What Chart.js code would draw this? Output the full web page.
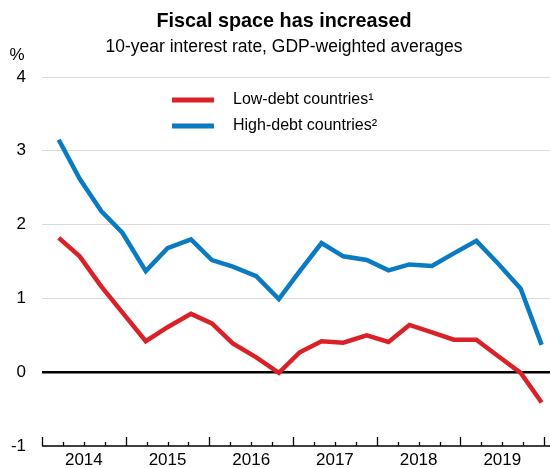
<!DOCTYPE html>
<html>
<head>
<meta charset="UTF-8">
<title>Fiscal space has increased</title>
<script src="https://cdn.jsdelivr.net/npm/chart.js@4"></script>
<style>
    body { margin: 0; background: #fff; }
    canvas { display: block; }
</style>
</head>
<body>
<canvas id="chart" width="550" height="468"></canvas>
<script>
// observation dates as decimal years
const dates = [2014.20, 2014.45, 2014.71, 2014.96, 2015.24, 2015.50, 2015.78, 2016.03, 2016.28, 2016.56,
               2016.83, 2017.08, 2017.34, 2017.60, 2017.88, 2018.14, 2018.39, 2018.66, 2018.92, 2019.19,
               2019.46, 2019.72, 2019.97];
const lowDebt = [1.82, 1.57, 1.16, 0.81, 0.42, 0.61, 0.79, 0.66, 0.39, 0.20,
                 -0.01, 0.27, 0.42, 0.40, 0.50, 0.41, 0.64, 0.54, 0.44, 0.44,
                 0.21, -0.01, -0.41];
const highDebt = [3.15, 2.62, 2.18, 1.89, 1.37, 1.68, 1.80, 1.52, 1.43, 1.30,
                  0.99, 1.37, 1.75, 1.57, 1.52, 1.38, 1.46, 1.44, 1.61, 1.78,
                  1.46, 1.13, 0.37];
const years = [2014, 2015, 2016, 2017, 2018, 2019];
const seriesNames = ['Low-debt countries¹', 'High-debt countries²'];
const seriesColors = ['#da2128', '#0a7bc1'];

const FONT = '"Liberation Sans", Arial, sans-serif';
// plot frame
const FRAME = { left: 42, top: 77, right: 550, bottom: 446 };

function toPoints(values) {
    return values.map((v, i) => ({ x: dates[i], y: v }));
}

// fixed plot frame, titles, legend and the bottom axis with quarter ticks
const decorations = {
    id: 'decorations',
    afterLayout(chart) {
        const a = chart.chartArea;
        Object.assign(a, FRAME);
        a.width = FRAME.right - FRAME.left;
        a.height = FRAME.bottom - FRAME.top;
        const y = chart.scales.y;
        y.top = FRAME.top;
        y.bottom = FRAME.bottom;
        y.height = a.height;
        y.configure();
        const x = chart.scales.x;
        x.left = FRAME.left;
        x.right = FRAME.right;
        x.width = a.width;
        x.top = FRAME.bottom;
        x.configure();
    },
    afterDraw(chart) {
        const ctx = chart.ctx;
        const x = chart.scales.x;
        const area = chart.chartArea;
        ctx.save();
        ctx.fillStyle = '#000';
        ctx.textAlign = 'center';
        ctx.textBaseline = 'middle';
        ctx.font = 'bold 19.8px ' + FONT;
        ctx.fillText('Fiscal space has increased', 284, 22);
        ctx.font = '17.5px ' + FONT;
        ctx.fillText('10-year interest rate, GDP-weighted averages', 284, 47);
        ctx.font = '17px ' + FONT;
        ctx.fillText('%', 17, 55);

        years.forEach(y => {
            ctx.fillText(String(y), x.getPixelForValue(y + 0.5), area.bottom + 14);
        });

        // legend
        ctx.textAlign = 'left';
        ctx.font = '16px ' + FONT;
        seriesNames.forEach((name, i) => {
            const y = 100 + i * 26;
            ctx.strokeStyle = seriesColors[i];
            ctx.lineWidth = 5;
            ctx.beginPath();
            ctx.moveTo(172, y);
            ctx.lineTo(214, y);
            ctx.stroke();
            ctx.fillText(name, 233, y);
        });

        // axis line and tick marks
        ctx.strokeStyle = '#000';
        ctx.lineWidth = 1.3;
        ctx.beginPath();
        ctx.moveTo(area.left, area.bottom);
        ctx.lineTo(area.right, area.bottom);
        for (let q = 0; q <= 24; q++) {
            const px = Math.round(x.getPixelForValue(2014 + q / 4)) + 0.5;
            if (px > area.right) break;
            const len = q % 4 === 0 ? 9 : 4;
            ctx.moveTo(px, area.bottom);
            ctx.lineTo(px, area.bottom - len);
        }
        ctx.stroke();
        ctx.restore();
    }
};

const lineStyle = {
    borderWidth: 4.5,
    pointRadius: 0,
    pointHoverRadius: 0,
    pointBorderWidth: 0,
    tension: 0
};

new Chart(document.getElementById('chart').getContext('2d'), {
    type: 'line',
    data: {
        datasets: [
            Object.assign({ label: seriesNames[0], data: toPoints(lowDebt), borderColor: seriesColors[0] }, lineStyle),
            Object.assign({ label: seriesNames[1], data: toPoints(highDebt), borderColor: seriesColors[1] }, lineStyle)
        ]
    },
    options: {
        responsive: false,
        animation: false,
        layout: {
            autoPadding: false,
            padding: { top: 77, right: 0, left: 0, bottom: 22 }
        },
        plugins: {
            legend: { display: false },
            tooltip: { enabled: false }
        },
        scales: {
            x: {
                type: 'linear',
                min: 2014,
                max: 2020.07,
                grid: { display: false, drawTicks: false },
                border: { display: false },
                ticks: { display: false }
            },
            y: {
                min: -1,
                max: 4,
                afterFit: (scale) => { scale.width = 42; },
                grid: {
                    drawTicks: false,
                    color: (c) => c.tick.value === 0 ? '#000' : (c.tick.value === -1 ? 'rgba(0,0,0,0)' : '#dadada'),
                    lineWidth: (c) => c.tick.value === 0 ? 2.5 : 1
                },
                border: { display: false },
                ticks: {
                    stepSize: 1,
                    padding: 16,
                    color: '#000',
                    font: { size: 17, family: FONT }
                }
            }
        }
    },
    plugins: [decorations]
});
</script>
</body>
</html>
